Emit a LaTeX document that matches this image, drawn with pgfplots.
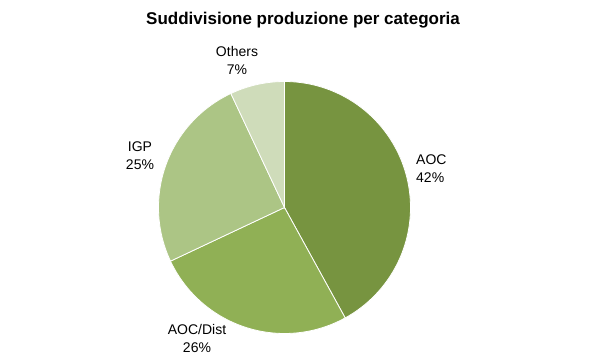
\documentclass[border=0pt]{standalone}
\usepackage{pgfplots}
\pgfplotsset{compat=1.18}
\usepackage{fontspec}
\setmainfont{Liberation Sans}
\definecolor{cAOC}{HTML}{779440}
\definecolor{cDist}{HTML}{90B055}
\definecolor{cIGP}{HTML}{ACC585}
\definecolor{cOth}{HTML}{CFDCBA}
% shares in percent
\def\pAOC{42}
\def\pDist{26}
\def\pIGP{25}
\def\pOth{7}
\begin{document}
\begin{tikzpicture}
\pgfmathsetmacro{\aA}{90}
\pgfmathsetmacro{\aB}{\aA-3.6*\pAOC}
\pgfmathsetmacro{\aC}{\aB-3.6*\pDist}
\pgfmathsetmacro{\aD}{\aC-3.6*\pIGP}
\pgfmathsetmacro{\aE}{\aD-3.6*\pOth}
\def\cx{284.5}
\def\cy{152.5}
\def\r{126}
\begin{axis}[
  scale only axis, width=595bp, height=360bp,
  xmin=0, xmax=595, ymin=0, ymax=360,
  axis lines=none, clip=false,
]
\path[use as bounding box] (axis cs:0,0) rectangle (axis cs:595,360);
\addplot[fill=cAOC, draw=white, line width=0.8pt, domain=\aB:\aA, samples=80, variable=\t]
  ({\cx+\r*cos(\t)}, {\cy+\r*sin(\t)}) -- (axis cs:\cx,\cy) -- cycle;
\addplot[fill=cDist, draw=white, line width=0.8pt, domain=\aC:\aB, samples=60, variable=\t]
  ({\cx+\r*cos(\t)}, {\cy+\r*sin(\t)}) -- (axis cs:\cx,\cy) -- cycle;
\addplot[fill=cIGP, draw=white, line width=0.8pt, domain=\aD:\aC, samples=60, variable=\t]
  ({\cx+\r*cos(\t)}, {\cy+\r*sin(\t)}) -- (axis cs:\cx,\cy) -- cycle;
\addplot[fill=cOth, draw=white, line width=0.8pt, domain=\aE:\aD, samples=20, variable=\t]
  ({\cx+\r*cos(\t)}, {\cy+\r*sin(\t)}) -- (axis cs:\cx,\cy) -- cycle;
\node[font=\fontsize{17bp}{20bp}\selectfont\bfseries, text=black] at (axis cs:303,340) {Suddivisione produzione per categoria};
\node[font=\fontsize{14bp}{18bp}\selectfont, align=center, inner sep=0pt] at (axis cs:237,300) {Others\\7\%};
\node[font=\fontsize{14bp}{18bp}\selectfont, align=left, anchor=west, inner sep=0pt] at (axis cs:416,191) {AOC\\42\%};
\node[font=\fontsize{14bp}{18bp}\selectfont, align=center, inner sep=0pt] at (axis cs:140,204) {IGP\\25\%};
\node[font=\fontsize{14bp}{18bp}\selectfont, align=center, inner sep=0pt] at (axis cs:197,22) {AOC/Dist\\26\%};
\end{axis}
\end{tikzpicture}
\end{document}
